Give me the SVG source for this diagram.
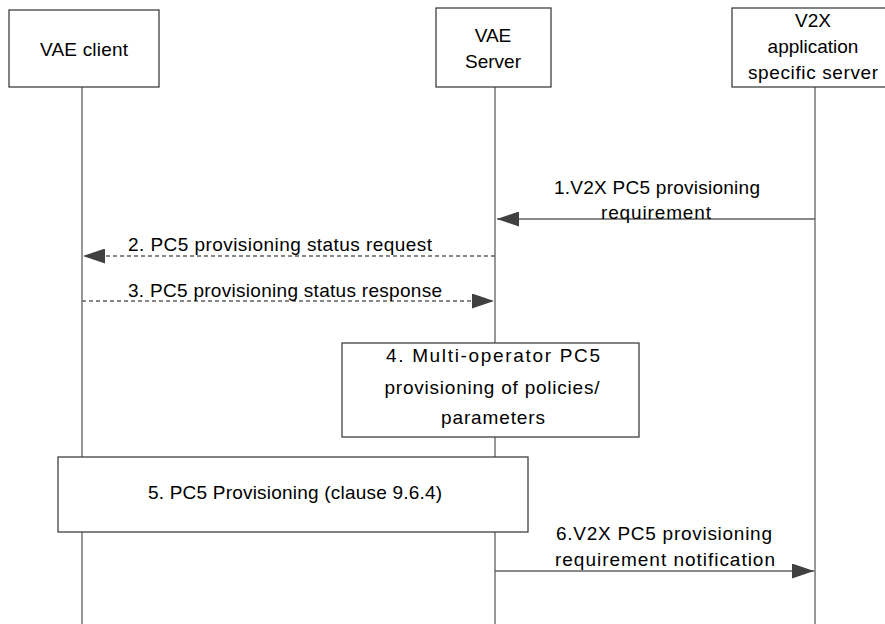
<svg xmlns="http://www.w3.org/2000/svg" width="885" height="624" viewBox="0 0 885 624">
<style>
.box{fill:#fff;stroke:#404040;stroke-width:1.3}
.life{stroke:#606060;stroke-width:1.3;fill:none}
.msg{stroke:#606060;stroke-width:1.3;fill:none}
.dash{stroke-dasharray:4 3}
.t{font-family:"Liberation Sans",Arial,sans-serif;font-size:19px;fill:#000;text-anchor:middle}
</style>
<defs>
<marker id="ah" viewBox="0 0 22 15" refX="22" refY="7.5" markerWidth="22" markerHeight="15" markerUnits="userSpaceOnUse" orient="auto">
<path d="M0,0 L22,7.5 L0,15 Z" fill="#404040"/>
</marker>
</defs>
<g id="lifelines">
<line class="life" x1="82" y1="87" x2="82" y2="624"/>
<line class="life" x1="495" y1="87" x2="495" y2="624"/>
<line class="life" x1="815" y1="87" x2="815" y2="624"/>
</g>
<g id="vae-client">
<rect class="box" x="9" y="10" width="150" height="77"/>
<text class="t" x="84" y="56" textLength="88" lengthAdjust="spacing">VAE client</text>
</g>
<g id="vae-server">
<rect class="box" x="436" y="8" width="115" height="79"/>
<text class="t" x="493" y="42">VAE</text>
<text class="t" x="493" y="68">Server</text>
</g>
<g id="v2x-server">
<rect class="box" x="732" y="8" width="160" height="79"/>
<text class="t" x="813" y="27">V2X</text>
<text class="t" x="813" y="53">application</text>
<text class="t" x="813" y="79" textLength="130" lengthAdjust="spacing">specific server</text>
</g>
<g id="connectors">
<line class="msg" x1="815" y1="219" x2="497" y2="219" marker-end="url(#ah)"/>
<line class="msg dash" x1="495" y1="256" x2="83" y2="256" marker-end="url(#ah)"/>
<line class="msg dash" x1="82" y1="301" x2="494" y2="301" marker-end="url(#ah)"/>
<line class="msg" x1="495" y1="571" x2="814" y2="571" marker-end="url(#ah)"/>
</g>
<g id="labels">
<text class="t" x="657" y="194" textLength="206" lengthAdjust="spacing">1.V2X PC5 provisioning</text>
<text class="t" x="656" y="219" textLength="110" lengthAdjust="spacing">requirement</text>
<text class="t" x="280" y="251" textLength="304" lengthAdjust="spacing">2. PC5 provisioning status request</text>
<text class="t" x="285" y="297" textLength="314" lengthAdjust="spacing">3. PC5 provisioning status response</text>
<text class="t" x="664" y="540" textLength="216" lengthAdjust="spacing">6.V2X PC5 provisioning</text>
<text class="t" x="665" y="566" textLength="220" lengthAdjust="spacing">requirement notification</text>
</g>
<g id="step4">
<rect class="box" x="342" y="343" width="297" height="94"/>
<text class="t" x="493" y="362" textLength="214" lengthAdjust="spacing">4. Multi-operator PC5</text>
<text class="t" x="492" y="394" textLength="215" lengthAdjust="spacing">provisioning of policies/</text>
<text class="t" x="493" y="424" textLength="104" lengthAdjust="spacing">parameters</text>
</g>
<g id="step5">
<rect class="box" x="58" y="457" width="470" height="75"/>
<text class="t" x="295" y="499" textLength="294" lengthAdjust="spacing">5. PC5 Provisioning (clause 9.6.4)</text>
</g>
</svg>
